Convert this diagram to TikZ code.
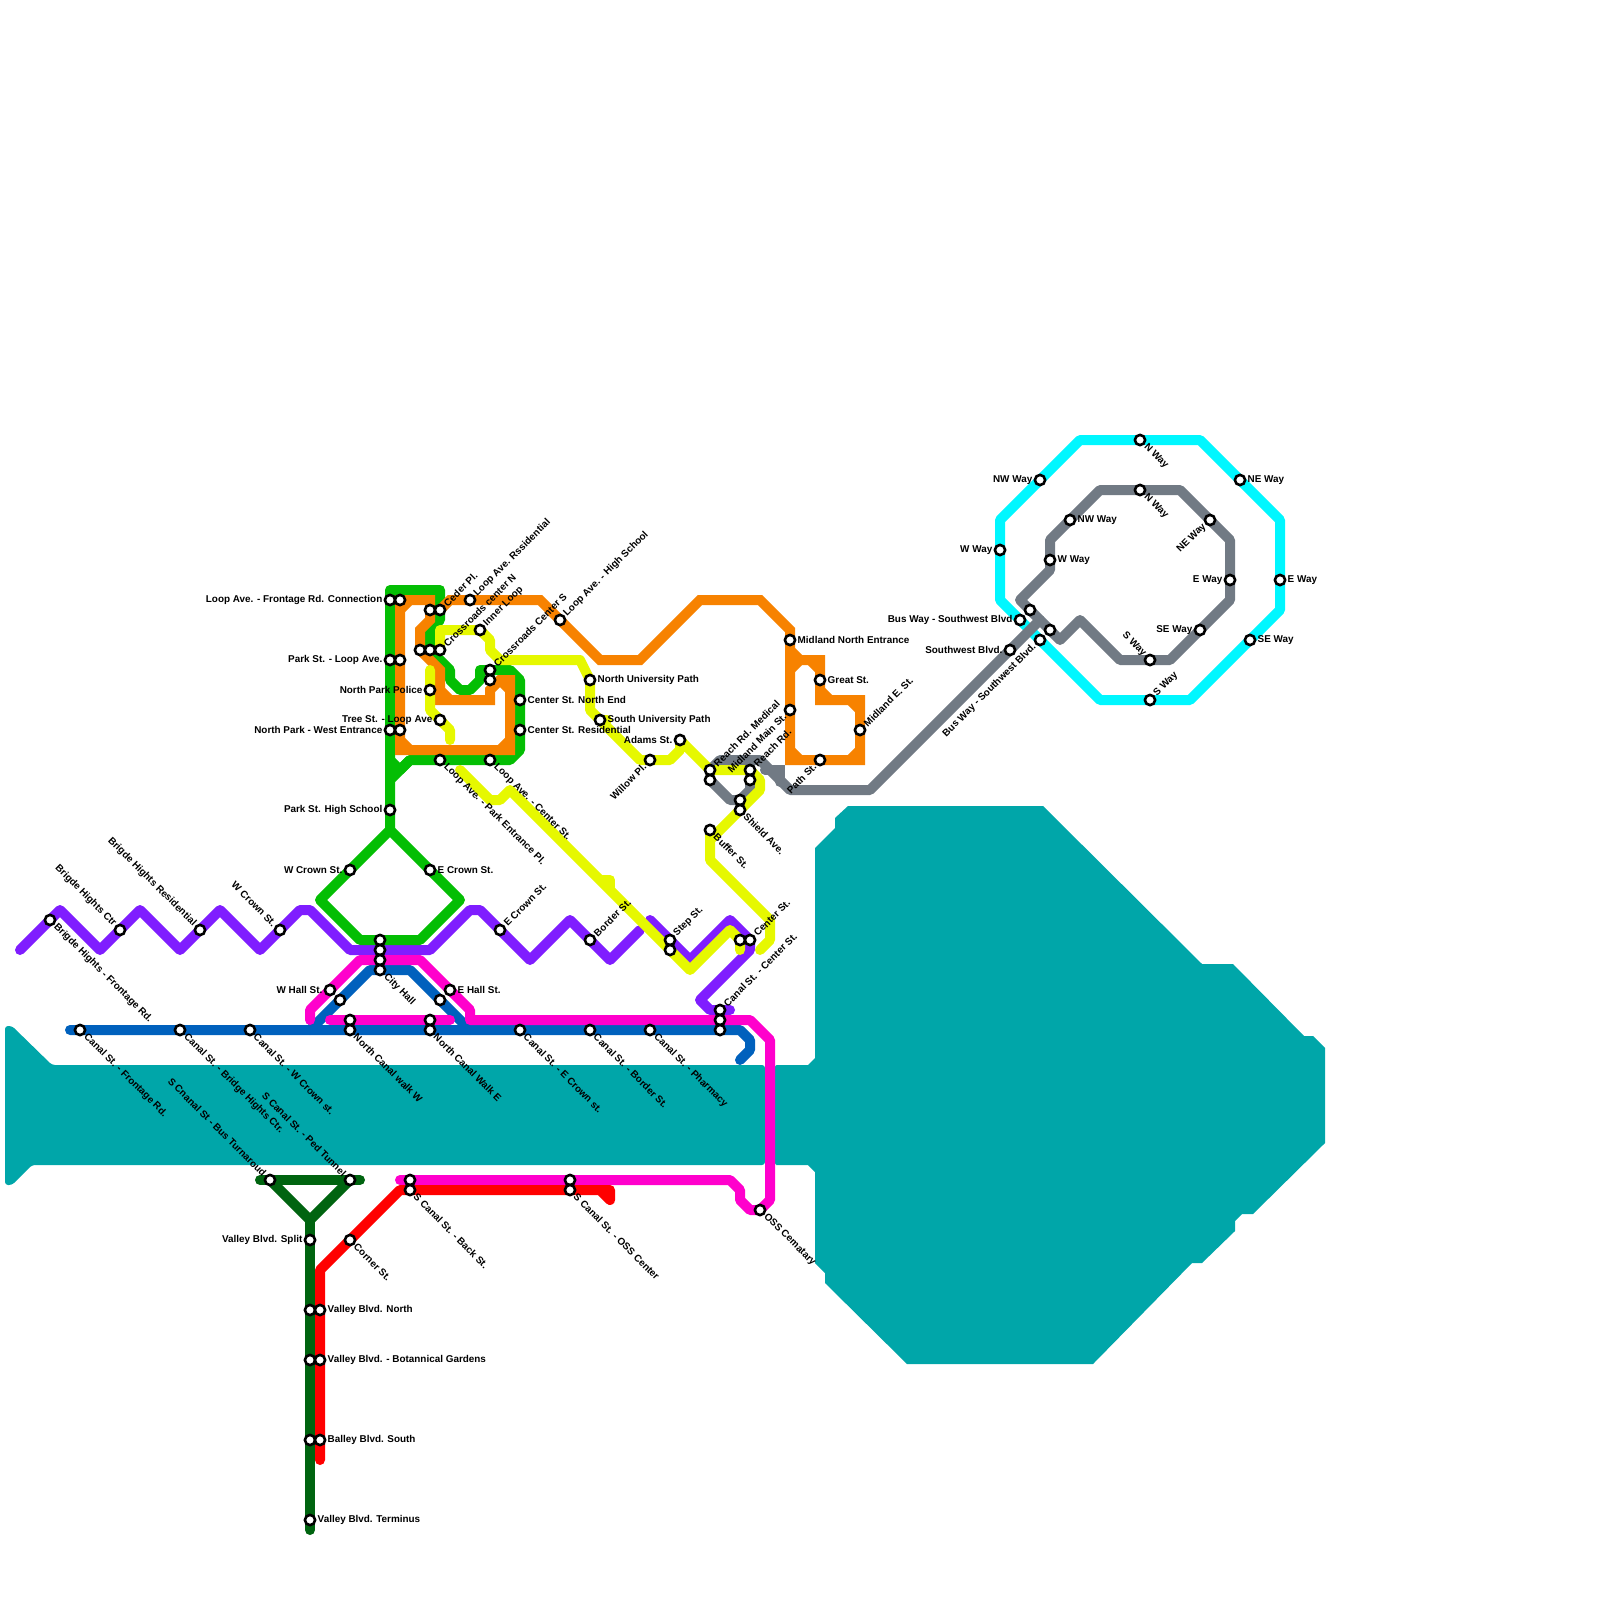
\documentclass[tikz,border=0pt]{standalone}
\usepackage{fontspec}
\setmainfont{Liberation Sans}
\pgfdeclarelayer{background}
\pgfsetlayers{background,main}
\definecolor{cteal}{HTML}{00A6A9}
\definecolor{cgreen}{HTML}{04BE04}
\definecolor{corange}{HTML}{F78200}
\definecolor{cyell}{HTML}{E6F800}
\definecolor{cpurple}{HTML}{7F1DFF}
\definecolor{cpink}{HTML}{FF00CC}
\definecolor{cblue}{HTML}{0061BD}
\definecolor{ccyan}{HTML}{00F7FF}
\definecolor{cgray}{HTML}{717A84}
\definecolor{cdark}{HTML}{006410}
\definecolor{cred}{HTML}{FF0000}
\tikzset{
  station/.style={circle,draw=black,fill=white,line width=2.6pt,minimum size=10.2pt,inner sep=0pt},
  lab/.style={inner sep=0pt,font=\fontsize{9.9}{12}\selectfont\bfseries,text=black},
  labR/.style={lab,anchor=west,xshift=7.5pt},
  labL/.style={lab,anchor=east,xshift=-7.5pt},
  labUR/.style={lab,anchor=west,rotate=45,xshift=7.5pt},
  labDR/.style={lab,anchor=west,rotate=-45,xshift=7.5pt},
  labUL/.style={lab,anchor=east,rotate=-45,xshift=-7.5pt},
  labDL/.style={lab,anchor=east,rotate=45,xshift=-7.5pt},
  metro/.style={line width=10pt,line join=round,line cap=round},
  metrosq/.style={line width=10pt,line join=miter,line cap=round},
  water/.style={fill=cteal,draw=none}
}
\newcommand{\st}[5]{\node[station] (#1) at (#2,#3) {}; \node[lab#4] (#1t) at (#2,#3) {#5};}
\newcommand{\sn}[3]{\node[station] (#1) at (#2,#3) {};}
\begin{document}
\begin{tikzpicture}[x=1pt,y=-1pt]
\useasboundingbox (0,0) rectangle (1600,1600);
% stations
\st{a1}{390}{600}{L}{Loop Ave. - Frontage Rd. Connection}
\sn{a2}{400}{600}
\st{a3}{390}{660}{L}{Park St. - Loop Ave.}
\sn{a4}{400}{660}
\st{a5}{390}{730}{L}{North Park - West Entrance}
\sn{a6}{400}{730}
\st{a7}{390}{810}{L}{Park St. High School}
\sn{c1}{430}{610}
\st{c2}{440}{610}{UR}{Ceder Pl.}
\st{c3}{470}{600}{UR}{Loop Ave. Rssidential}
\sn{b1}{420}{650}
\sn{b2}{430}{650}
\st{b3}{440}{650}{UR}{Crossroads center N}
\st{b4}{480}{630}{UR}{Inner Loop}
\st{b5}{490}{670}{UR}{Crossroads Center S}
\sn{b6}{490}{680}
\st{c4}{560}{620}{UR}{Loop Ave. - High School}
\st{d1}{430}{690}{L}{North Park Police}
\st{d2}{440}{720}{L}{Tree St. - Loop Ave}
\st{d3}{520}{700}{R}{Center St. North End}
\st{d4}{520}{730}{R}{Center St. Residential}
\st{d5}{440}{760}{DR}{Loop Ave. - Park Entrance Pl.}
\st{d6}{490}{760}{DR}{Loop Ave. - Center St.}
\st{e1}{590}{680}{R}{North University Path}
\st{e2}{600}{720}{R}{South University Path}
\st{e3}{650}{760}{DL}{Willow Pl.}
\st{e4}{680}{740}{L}{Adams St.}
\st{f1}{710}{770}{UR}{Reach Rd. Medical}
\sn{f2}{710}{780}
\st{f3}{750}{770}{UR}{Reach Rd.}
\sn{f4}{750}{780}
\sn{f5}{740}{800}
\st{f6}{740}{810}{DR}{Shield Ave.}
\st{f7}{710}{830}{DR}{Buffer St.}
\st{g1}{790}{640}{R}{Midland North Entrance}
\st{g2}{790}{710}{DL}{Midland Main St.}
\st{g3}{820}{680}{R}{Great St.}
\st{g4}{860}{730}{UR}{Midland E. St.}
\st{g5}{820}{760}{DL}{Path St.}
\st{h1}{50}{920}{DR}{Brigde Hights - Frontage Rd.}
\st{h2}{120}{930}{UL}{Brigde Hights Ctr}
\st{h3}{200}{930}{UL}{Brigde Hights Residential}
\st{h4}{280}{930}{UL}{W Crown St.}
\st{h5}{350}{870}{L}{W Crown St.}
\st{h6}{430}{870}{R}{E Crown St.}
\st{h7}{500}{930}{UR}{E Crown St.}
\st{h8}{590}{940}{UR}{Border St.}
\st{h9}{670}{940}{UR}{Step St.}
\sn{h10}{670}{950}
\sn{i1}{740}{940}
\st{i2}{750}{940}{UR}{Center St.}
\st{i3}{720}{1010}{UR}{Canal St. - Center St.}
\sn{i4}{720}{1020}
\sn{i5}{720}{1030}
\sn{j1}{380}{940}
\sn{j2}{380}{950}
\sn{j3}{380}{960}
\st{j4}{380}{970}{DR}{City Hall}
\st{j5}{330}{990}{L}{W Hall St.}
\st{j6}{450}{990}{R}{E Hall St.}
\sn{j7}{340}{1000}
\sn{j8}{440}{1000}
\sn{j9}{350}{1020}
\st{j10}{350}{1030}{DR}{North Canal walk W}
\sn{j11}{430}{1020}
\st{j12}{430}{1030}{DR}{North Canal Walk E}
\st{k1}{80}{1030}{DR}{Canal St. - Frontage Rd.}
\st{k2}{180}{1030}{DR}{Canal St. - Bridge Hights Ctr.}
\st{k3}{250}{1030}{DR}{Canal St. - W Crown st.}
\st{k4}{520}{1030}{DR}{Canal St. - E Crown st.}
\st{k5}{590}{1030}{DR}{Canal St. - Border St.}
\st{k6}{650}{1030}{DR}{Canal St. - Pharmacy}
\st{m1}{270}{1180}{UL}{S Cnanal St - Bus Turnaroud}
\st{m2}{350}{1180}{UL}{S Canal St. - Ped Tunnel}
\sn{m3}{410}{1180}
\st{m4}{410}{1190}{DR}{S Canal St. - Back St.}
\sn{m5}{570}{1180}
\st{m6}{570}{1190}{DR}{S Canal St. - OSS Center}
\st{m7}{760}{1210}{DR}{OSS Cematary}
\st{m8}{350}{1240}{DR}{Corner St.}
\st{n1}{310}{1240}{L}{Valley Blvd. Split}
\sn{n2}{310}{1310}
\st{n3}{320}{1310}{R}{Valley Blvd. North}
\sn{n4}{310}{1360}
\st{n5}{320}{1360}{R}{Valley Blvd. - Botannical Gardens}
\sn{n6}{310}{1440}
\st{n7}{320}{1440}{R}{Balley Blvd. South}
\st{n8}{310}{1520}{R}{Valley Blvd. Terminus}
\st{o1}{1140}{440}{DR}{N Way}
\st{o2}{1040}{480}{L}{NW Way}
\st{o3}{1240}{480}{R}{NE Way}
\st{o4}{1000}{550}{L}{W Way}
\st{o5}{1280}{580}{R}{E Way}
\st{o6}{1250}{640}{R}{SE Way}
\st{o7}{1150}{700}{UR}{S Way}
\st{o8}{1040}{640}{DL}{Bus Way - Southwest Blvd.}
\st{q1}{1140}{490}{DR}{N Way}
\st{q2}{1070}{520}{R}{NW Way}
\st{q3}{1210}{520}{DL}{NE Way}
\st{q4}{1050}{560}{R}{W Way}
\st{q5}{1230}{580}{L}{E Way}
\st{q6}{1200}{630}{L}{SE Way}
\st{q7}{1150}{660}{UL}{S Way}
\sn{q8}{1050}{630}
\sn{q9}{1030}{610}
\st{q10}{1020}{620}{L}{Bus Way - Southwest Blvd}
\st{q11}{1010}{650}{L}{Southwest Blvd.}
\begin{pgfonlayer}{background}
% water
\fill[water,rounded corners=3pt] (5,1026)--(12,1026)--(52,1065)--(765,1065)--(765,1165)--(32,1165)--(12,1185)--(5,1185)--cycle;
\fill[water] (778,1065) [rounded corners=2pt] --(775,1065)--(775,1165)-- (778,1165) [sharp corners]--(808,1165)--(815,1172)--(815,1263)--(825,1273)--(825,1283)--(907,1364)--(1093,1364)--(1192,1263)--(1202,1263)--(1235,1231)--(1235,1221)--(1242,1214)--(1253,1214)--(1325,1143)--(1325,1048)--(1313,1036)--(1304,1036)--(1233,964)--(1202,964)--(1043,806)--(848,806)--(835,818)--(835,828)--(815,848)--(815,1058)--(808,1065)--cycle;
% cyan ring
\draw[metro,ccyan] (1080,440)--(o1.center)--(1200,440)--(o3.center)--(1280,520)--(o5.center)--(1280,610)--(o6.center)--(1190,700)--(o7.center)--(1100,700)--(o8.center)--(1000,600)--(o4.center)--(1000,520)--(o2.center)--cycle;
% gray
\draw[metro,cgray] (1100,490)--(q1.center)--(1180,490)--(q3.center)--(1230,540)--(q5.center)--(1230,600)--(q6.center)--(1170,660)--(q7.center)--(1120,660)--(1080,620)--(1060,640)--(q8.center)--(q9.center)--(1020,600)--(1050,570)--(q4.center)--(1050,540)--(q2.center)--cycle;
\draw[metro,cgray] (f1.center)--(720,760)--(760,760)--(790,790)--(870,790)--(q11.center)--(1040,620);
\draw[metro,cgray] (f2.center)--(730,800)--(f5.center)--(750,790)--(f4.center);
\draw[metrosq,cgray] (765,770)--(780,770)--(780,782);
% blue
\draw[metro,cblue] (70,1030)--(k1.center)--(k2.center)--(k3.center)--(j10.center)--(j12.center)--(k4.center)--(k5.center)--(k6.center)--(i5.center)--(740,1030)--(750,1040)--(750,1050)--(740,1060);
\draw[metro,cblue] (310,1030)--(j7.center)--(370,970)--(j4.center)--(410,970)--(j8.center)--(470,1030);
% purple
\draw[metro,cpurple] (20,950)--(h1.center)--(60,910)--(100,950)--(h2.center)--(140,910)--(180,950)--(h3.center)--(220,910)--(260,950)--(h4.center)--(300,910)--(310,910)--(350,950)--(j2.center)--(430,950)--(470,910)--(480,910)--(h7.center)--(530,960)--(570,920)--(h8.center)--(610,960)--(640,930);
\draw[metro,cpurple] (650,920)--(h9.center)--(690,960)--(730,920)--(i2.center)--(750,950)--(700,1000)--(710,1010)--(i3.center)--(730,1010);
% pink
\draw[metro,cpink] (310,1020)--(310,1010)--(j5.center)--(360,960)--(j3.center)--(420,960)--(j6.center)--(470,1010)--(470,1020)--(i4.center)--(750,1020)--(770,1040)--(770,1200)--(m7.center)--(750,1210)--(740,1200)--(740,1190)--(730,1180)--(m5.center)--(m3.center)--(400,1180);
\draw[metro,cpink] (330,1020)--(j9.center)--(j11.center)--(450,1020);
% red
\draw[metro,cred] (320,1460)--(n7.center)--(n5.center)--(n3.center)--(320,1270)--(m8.center)--(400,1190)--(m4.center)--(m6.center)--(610,1190)--(610,1200)--(600,1190);
% dark green
\draw[metro,cdark] (260,1180)--(m1.center)--(m2.center)--(360,1180);
\draw[metro,cdark] (m1.center)--(310,1220)--(m2.center);
\draw[metro,cdark] (310,1220)--(n1.center)--(n2.center)--(n4.center)--(n6.center)--(n8.center)--(310,1530);
% green
\draw[metro,cgreen] (390,830)--(a7.center)--(a5.center)--(a3.center)--(a1.center)--(390,590)--(440,590)--(c2.center)--(440,620)--(430,630)--(b2.center)--(450,670)--(450,680)--(460,690)--(470,690)--(480,680)--(480,670)--(b5.center)--(510,670)--(520,680)--(d3.center)--(d4.center)--(520,750)--(510,760)--(d6.center)--(d5.center)--(410,760)--(390,780);
\draw[metro,cgreen] (390,760)--(400,770)--(410,760);
\draw[metro,cgreen] (390,830)--(320,900)--(360,940)--(j1.center)--(420,940)--(460,900)--cycle;
% orange
\draw[metrosq,corange] (a2.center)--(430,600)--(c1.center)--(430,620)--(420,630)--(b1.center)--(440,670)--(440,700)--(490,700)--(490,690)--(500,680)--(510,680)--(510,750)--(400,750)--(a6.center)--(a4.center)--cycle;
\draw[metrosq,corange] (c2.center)--(450,600)--(c3.center)--(540,600)--(c4.center)--(600,660)--(640,660)--(700,600)--(760,600)--(790,630)--(g1.center)--(790,650)--(800,660)--(820,660)--(g3.center)--(820,700)--(860,700)--(g4.center)--(860,760)--(g5.center)--(790,760)--(g2.center)--(g1.center);
\draw[metro,corange] (400,610)--(410,600) (400,740)--(410,750) (500,680)--(510,690) (510,740)--(500,750) (790,670)--(800,660) (790,750)--(800,760) (860,750)--(850,760) (850,700)--(860,710) (820,690)--(830,700) (810,660)--(820,670) (440,690)--(450,700);
% yellow
\draw[metro,cyell] (430,670)--(d1.center)--(430,710)--(d2.center)--(450,730)--(450,740);
\draw[metro,cyell] (b3.center)--(440,630)--(b4.center)--(490,640)--(490,650)--(500,660)--(580,660)--(e1.center)--(590,710)--(e2.center)--(640,760)--(e3.center)--(670,760)--(680,750)--(e4.center)--(f1.center)--(f3.center)--(760,780)--(760,790)--(f6.center)--(710,840)--(710,860)--(770,920)--(770,940)--(760,950);
\draw[metro,cyell] (f7.center)--(710,840);
\draw[metro,cyell] (460,770)--(490,800)--(500,800)--(510,790)--(h10.center)--(690,970)--(730,930)--(i1.center)--(740,950);
\draw[metro,cyell] (e2.center)--(607,720);
\draw[metro,cyell] (603,880)--(610,880)--(610,887);
\end{pgfonlayer}
\end{tikzpicture}
\end{document}
